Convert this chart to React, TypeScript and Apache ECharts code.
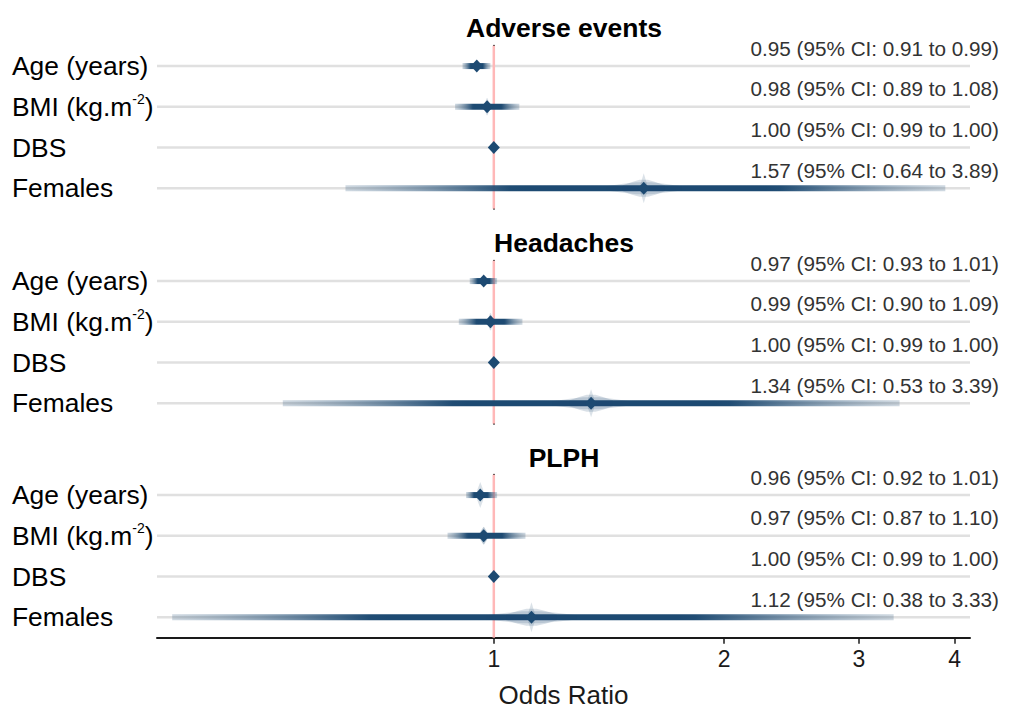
import React, { useEffect, useRef } from "react";
import * as echarts from "echarts";

// ---------- data ----------
const categories = ["Age (years)", "BMI (kg.m-2)", "DBS", "Females"];
const panelTitles = ["Adverse events", "Headaches", "PLPH"];

const adverseEst = [0.95, 0.98, 1.0, 1.57];
const adverseLo = [0.91, 0.89, 0.99, 0.64];
const adverseHi = [0.99, 1.08, 1.0, 3.89];

const headachesEst = [0.97, 0.99, 1.0, 1.34];
const headachesLo = [0.93, 0.9, 0.99, 0.53];
const headachesHi = [1.01, 1.09, 1.0, 3.39];

const plphEst = [0.96, 0.97, 1.0, 1.12];
const plphLo = [0.92, 0.87, 0.99, 0.38];
const plphHi = [1.01, 1.1, 1.0, 3.33];

const xTicks = [1, 2, 3, 4];
const xMinOR = 0.363;
const xMaxOR = 4.19;
const refOR = 1;

// ---------- styles ----------
const FONT = "'Liberation Sans', Arial, Helvetica, sans-serif";
const NAVY = "29,74,114";
const gridTops = [45.7, 260.7, 474.7];
const gridHeight = 163;
const titleY = [28, 243, 458];
// half-height (px) of the light vertical spike through the estimate, per panel/row
const spikeHalf = [
  [0, 0, 0, 15],
  [0, 0, 0, 14],
  [13, 9, 0, 15],
];

const panels = [
  { est: adverseEst, lo: adverseLo, hi: adverseHi },
  { est: headachesEst, lo: headachesLo, hi: headachesHi },
  { est: plphEst, lo: plphLo, hi: plphHi },
];

const fmt = (v: number) => v.toFixed(2);

function lozenge(xe: number, y: number, halfW: number, halfH: number) {
  return [
    [xe - halfW, y - halfH * 0.35],
    [xe - halfW * 0.55, y - halfH * 0.75],
    [xe - halfW * 0.2, y - halfH],
    [xe + halfW * 0.2, y - halfH],
    [xe + halfW * 0.55, y - halfH * 0.75],
    [xe + halfW, y - halfH * 0.35],
    [xe + halfW, y + halfH * 0.35],
    [xe + halfW * 0.55, y + halfH * 0.75],
    [xe + halfW * 0.2, y + halfH],
    [xe - halfW * 0.2, y + halfH],
    [xe - halfW * 0.55, y + halfH * 0.75],
    [xe - halfW, y + halfH * 0.35],
  ];
}

function bandRender(panelIdx: number) {
  return (params: any, api: any) => {
    const r = api.value(3);
    const lo = api.value(0);
    const est = api.value(1);
    const hi = api.value(2);
    const cLo = api.coord([lo, r]);
    const cEst = api.coord([est, r]);
    const cHi = api.coord([hi, r]);
    const y = cEst[1];
    const x0 = cLo[0];
    const x1 = cHi[0];
    const xe = cEst[0];
    const w = Math.max(x1 - x0, 0.5);
    const stops: any[] = [];
    for (let k = 0; k <= 40; k++) {
      const t = k / 40;
      const x = x0 + t * w;
      let z;
      if (x < xe) z = ((xe - x) / Math.max(xe - x0, 1e-6)) * 1.96;
      else z = ((x - xe) / Math.max(x1 - xe, 1e-6)) * 1.96;
      const a = Math.min(1, 1.45 * Math.exp((-z * z) / 2));
      stops.push({ offset: t, color: `rgba(${NAVY},${a.toFixed(3)})` });
    }
    const children: any[] = [];
    children.push({
      type: "rect",
      shape: { x: x0, y: y - 3, width: w, height: 6 },
      style: {
        fill: { type: "linear", x: 0, y: 0, x2: 1, y2: 0, colorStops: stops, global: false },
      },
    });
    const hw = w / 2;
    if (hw * 0.125 > 3) {
      children.push({
        type: "polygon",
        shape: { points: lozenge(xe, y, 0.125 * hw, 6) },
        style: { fill: `rgba(${NAVY},0.17)` },
      });
      children.push({
        type: "polygon",
        shape: { points: lozenge(xe, y, 0.07 * hw, 8.5) },
        style: { fill: `rgba(${NAVY},0.17)` },
      });
    }
    const sp = spikeHalf[panelIdx][params.dataIndex];
    if (sp > 0) {
      children.push({
        type: "polygon",
        shape: { points: [[xe, y - sp], [xe + 3, y - 5], [xe + 3, y + 5], [xe, y + sp], [xe - 3, y + 5], [xe - 3, y - 5]] },
        style: { fill: `rgba(${NAVY},0.16)` },
      });
    }
    children.push({
      type: "polygon",
      shape: { points: [[xe - 6, y], [xe, y - 6.5], [xe + 6, y], [xe, y + 6.5]] },
      style: { fill: `rgb(${NAVY})` },
    });
    const p = panels[panelIdx];
    const i = params.dataIndex;
    children.push({
      type: "text",
      x: 999,
      y: y - 18,
      style: {
        text: `${fmt(p.est[i])} (95% CI: ${fmt(p.lo[i])} to ${fmt(p.hi[i])})`,
        align: "right",
        verticalAlign: "middle",
        fontSize: 20.7,
        fontFamily: FONT,
        fill: "#333",
      },
    });
    return { type: "group", children };
  };
}

function gridRender(params: any, api: any) {
  const r = api.value(1);
  const c = api.coord([0, r]);
  const cs = params.coordSys;
  return {
    type: "line",
    shape: { x1: cs.x, y1: c[1], x2: cs.x + cs.width, y2: c[1] },
    style: { stroke: "#e0e0e0", lineWidth: 2.5 },
  };
}

function refRender(params: any, api: any) {
  const c = api.coord([api.value(0), 0]);
  const cs = params.coordSys;
  return {
    type: "line",
    shape: { x1: c[0], y1: cs.y, x2: c[0], y2: cs.y + cs.height },
    style: { stroke: "#ffb8b8", lineWidth: 2.5 },
  };
}

export default function App() {
  const ref = useRef<HTMLDivElement>(null);
  useEffect(() => {
    if (!ref.current) return;
    const chart = echarts.init(ref.current, null, { renderer: "svg" });
    const tickLn = xTicks.map((v) => Math.log(v));
    const grid = gridTops.map((t) => ({
      left: 157,
      right: 39,
      top: t,
      height: gridHeight,
      containLabel: false,
      outerBoundsMode: "none",
    }));
    const xAxis = gridTops.map((_, i) => ({
      type: "value",
      gridIndex: i,
      min: Math.log(xMinOR),
      max: Math.log(xMaxOR),
      show: i === 2,
      axisLine: { show: true, onZero: false, lineStyle: { color: "#1a1a1a", width: 2 } },
      axisTick: { show: true, customValues: tickLn, length: 6, lineStyle: { color: "#1a1a1a", width: 1.5 } },
      axisLabel: {
        customValues: tickLn,
        formatter: (v: number) => String(Math.round(Math.exp(v))),
        fontSize: 23,
        color: "#1a1a1a",
        margin: 10,
        fontFamily: FONT,
      },
      splitLine: { show: false },
      name: i === 2 ? "Odds Ratio" : "",
      nameLocation: "middle",
      nameGap: 44,
      nameTextStyle: { fontSize: 26, color: "#1a1a1a", fontFamily: FONT },
    }));
    const yAxis = gridTops.map((_, i) => ({
      type: "category",
      gridIndex: i,
      data: categories,
      inverse: true,
      axisLine: { show: true, lineStyle: { color: "#1a1a1a", width: 2 } },
      axisTick: { show: false },
      splitLine: { show: false },
      axisLabel: {
        align: "left",
        margin: 145,
        fontSize: 26.4,
        lineHeight: 30,
        color: "#000",
        fontFamily: FONT,
        formatter: (v: string) => v.replace("-2", "{sup|-2}"),
        rich: {
          sup: { fontSize: 14, lineHeight: 26, verticalAlign: "top", color: "#000", fontFamily: FONT },
        },
      },
    }));
    const series: any[] = [];
    panels.forEach((p, i) => {
      series.push({
        type: "custom",
        xAxisIndex: i,
        yAxisIndex: i,
        z: 1,
        silent: true,
        data: categories.map((_, r) => [0, r]),
        encode: { x: 0, y: 1 },
        renderItem: gridRender,
      });
      series.push({
        type: "custom",
        xAxisIndex: i,
        yAxisIndex: i,
        z: 2,
        silent: true,
        data: [[Math.log(refOR), 0]],
        encode: { x: 0, y: 1 },
        renderItem: refRender,
      });
      series.push({
        type: "custom",
        xAxisIndex: i,
        yAxisIndex: i,
        z: 3,
        silent: true,
        data: categories.map((_, r) => [Math.log(p.lo[r]), Math.log(p.est[r]), Math.log(p.hi[r]), r]),
        encode: { x: [0, 1, 2], y: 3 },
        renderItem: bandRender(i),
      });
    });
    chart.setOption({
      animation: false,
      backgroundColor: "#fff",
      grid,
      xAxis,
      yAxis,
      series,
      graphic: panelTitles.map((t, i) => ({
        type: "text",
        x: 564,
        y: titleY[i],
        style: {
          text: t,
          fontSize: 26.5,
          fontWeight: "bold",
          fontFamily: FONT,
          fill: "#000",
          align: "center",
          verticalAlign: "middle",
          textAlign: "center",
          textVerticalAlign: "middle",
        },
      })),
    });
    return () => chart.dispose();
  }, []);
  return (
    <div
      ref={ref}
      style={{ position: "fixed", left: 0, top: 0, width: 1009, height: 711, background: "#fff" }}
    />
  );
}
